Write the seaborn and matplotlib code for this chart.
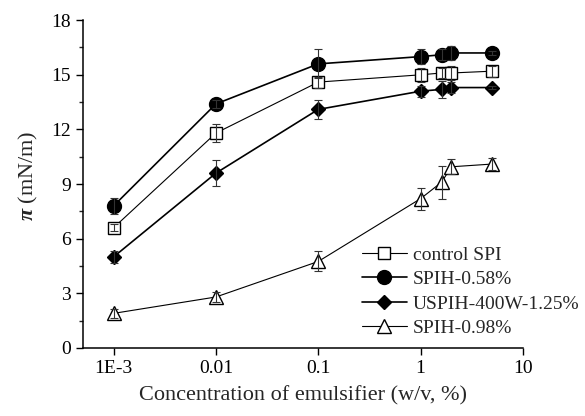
import matplotlib
matplotlib.use("Agg")
import matplotlib.pyplot as plt
import matplotlib.ticker as mticker
import seaborn as sns
import pandas as pd
import numpy as np

# ---- data ----
conc = [0.001, 0.01, 0.1, 1, 1.6, 2, 5]
series_names = ["control SPI", "SPIH-0.58%", "USPIH-400W-1.25%", "SPIH-0.98%"]
control_spi = [6.6, 11.8, 14.6, 15.0, 15.1, 15.1, 15.2]
control_spi_err = [0.2, 0.5, 0.3, 0.4, 0.3, 0.4, 0.3]
spih_058 = [7.8, 13.4, 15.6, 16.0, 16.1, 16.2, 16.2]
spih_058_err = [0.45, 0.2, 0.8, 0.4, 0.3, 0.4, 0.1]
uspih = [5.0, 9.6, 13.1, 14.1, 14.2, 14.3, 14.3]
uspih_err = [0.35, 0.7, 0.5, 0.3, 0.45, 0.3, 0.1]
spih_098 = [1.9, 2.8, 4.75, 8.2, 9.1, 9.95, 10.1]
spih_098_err = [0.25, 0.25, 0.55, 0.6, 0.9, 0.4, 0.35]
x_ticks = [0.001, 0.01, 0.1, 1, 10]
x_tick_labels = ["1E-3", "0.01", "0.1", "1", "10"]
y_ticks = [0, 3, 6, 9, 12, 15, 18]

values = [control_spi, spih_058, uspih, spih_098]
errors = [control_spi_err, spih_058_err, uspih_err, spih_098_err]

sns.set_style("ticks")
plt.rcParams["font.family"] = ["Liberation Serif", "DejaVu Serif"]
plt.rcParams["mathtext.fontset"] = "custom"
plt.rcParams["mathtext.it"] = "Liberation Serif:italic:bold"
plt.rcParams["mathtext.rm"] = "Liberation Serif"

df = pd.concat([pd.DataFrame({"conc": conc, "pi": v, "series": n})
                for n, v in zip(series_names, values)], ignore_index=True)

fig = plt.figure(figsize=(5.85, 4.16), dpi=100)
ax = fig.add_axes([0.1414, 0.1635, 0.7526, 0.788])

styles = {
    "control SPI": dict(marker="s", mfc="white", ms=8, lw=0.8),
    "SPIH-0.58%": dict(marker="o", mfc="black", ms=10, lw=1.2),
    "USPIH-400W-1.25%": dict(marker="D", mfc="black", ms=7.5, lw=1.2),
    "SPIH-0.98%": dict(marker="^", mfc="white", ms=10, lw=0.8),
}

handles = []
for name, v, e in zip(series_names, values, errors):
    st = styles[name]
    sub = df[df["series"] == name]
    sns.lineplot(data=sub, x="conc", y="pi", ax=ax, color="black",
                 linewidth=st["lw"], marker=st["marker"], markersize=st["ms"],
                 markerfacecolor=st["mfc"], markeredgecolor="black",
                 markeredgewidth=1.0, label=name, zorder=3, legend=False)
    ax.errorbar(conc, v, yerr=e, fmt="none", ecolor="#333333",
                elinewidth=0.8, capsize=3, capthick=0.8, zorder=4)
    h, = ax.plot([], [], color="black", lw=st["lw"], marker=st["marker"],
                 ms=st["ms"], mfc=st["mfc"], mec="black", mew=1.0)
    handles.append(h)

ax.set_xscale("log")
ax.set_xlim(5e-4, 10)
ax.set_ylim(0, 18)
ax.set_xticks(x_ticks)
ax.set_xticklabels(x_tick_labels)
ax.xaxis.set_minor_locator(mticker.NullLocator())
ax.set_yticks(y_ticks)
ax.yaxis.set_minor_locator(mticker.MultipleLocator(1.5))
ax.tick_params(axis="both", which="major", direction="out", length=5,
               width=1, labelsize=14, colors="black")
ax.tick_params(axis="y", which="minor", direction="out", length=3, width=1)
for s in ["top", "right"]:
    ax.spines[s].set_visible(False)
for s in ["left", "bottom"]:
    ax.spines[s].set_linewidth(1.1)
    ax.spines[s].set_color("black")

ax.set_xlabel("Concentration of emulsifier (w/v, %)", fontsize=16, labelpad=7)
ax.set_ylabel(r"$\pi$ (mN/m)", fontsize=16, labelpad=8, y=0.524)

fig.legend(handles, series_names, loc="upper left",
           bbox_to_anchor=(0.619, 0.408), frameon=False, fontsize=14,
           handlelength=2.3, handletextpad=0.3, labelspacing=0.35,
           borderaxespad=0, borderpad=0)

fig.savefig("out.png", dpi=100)
